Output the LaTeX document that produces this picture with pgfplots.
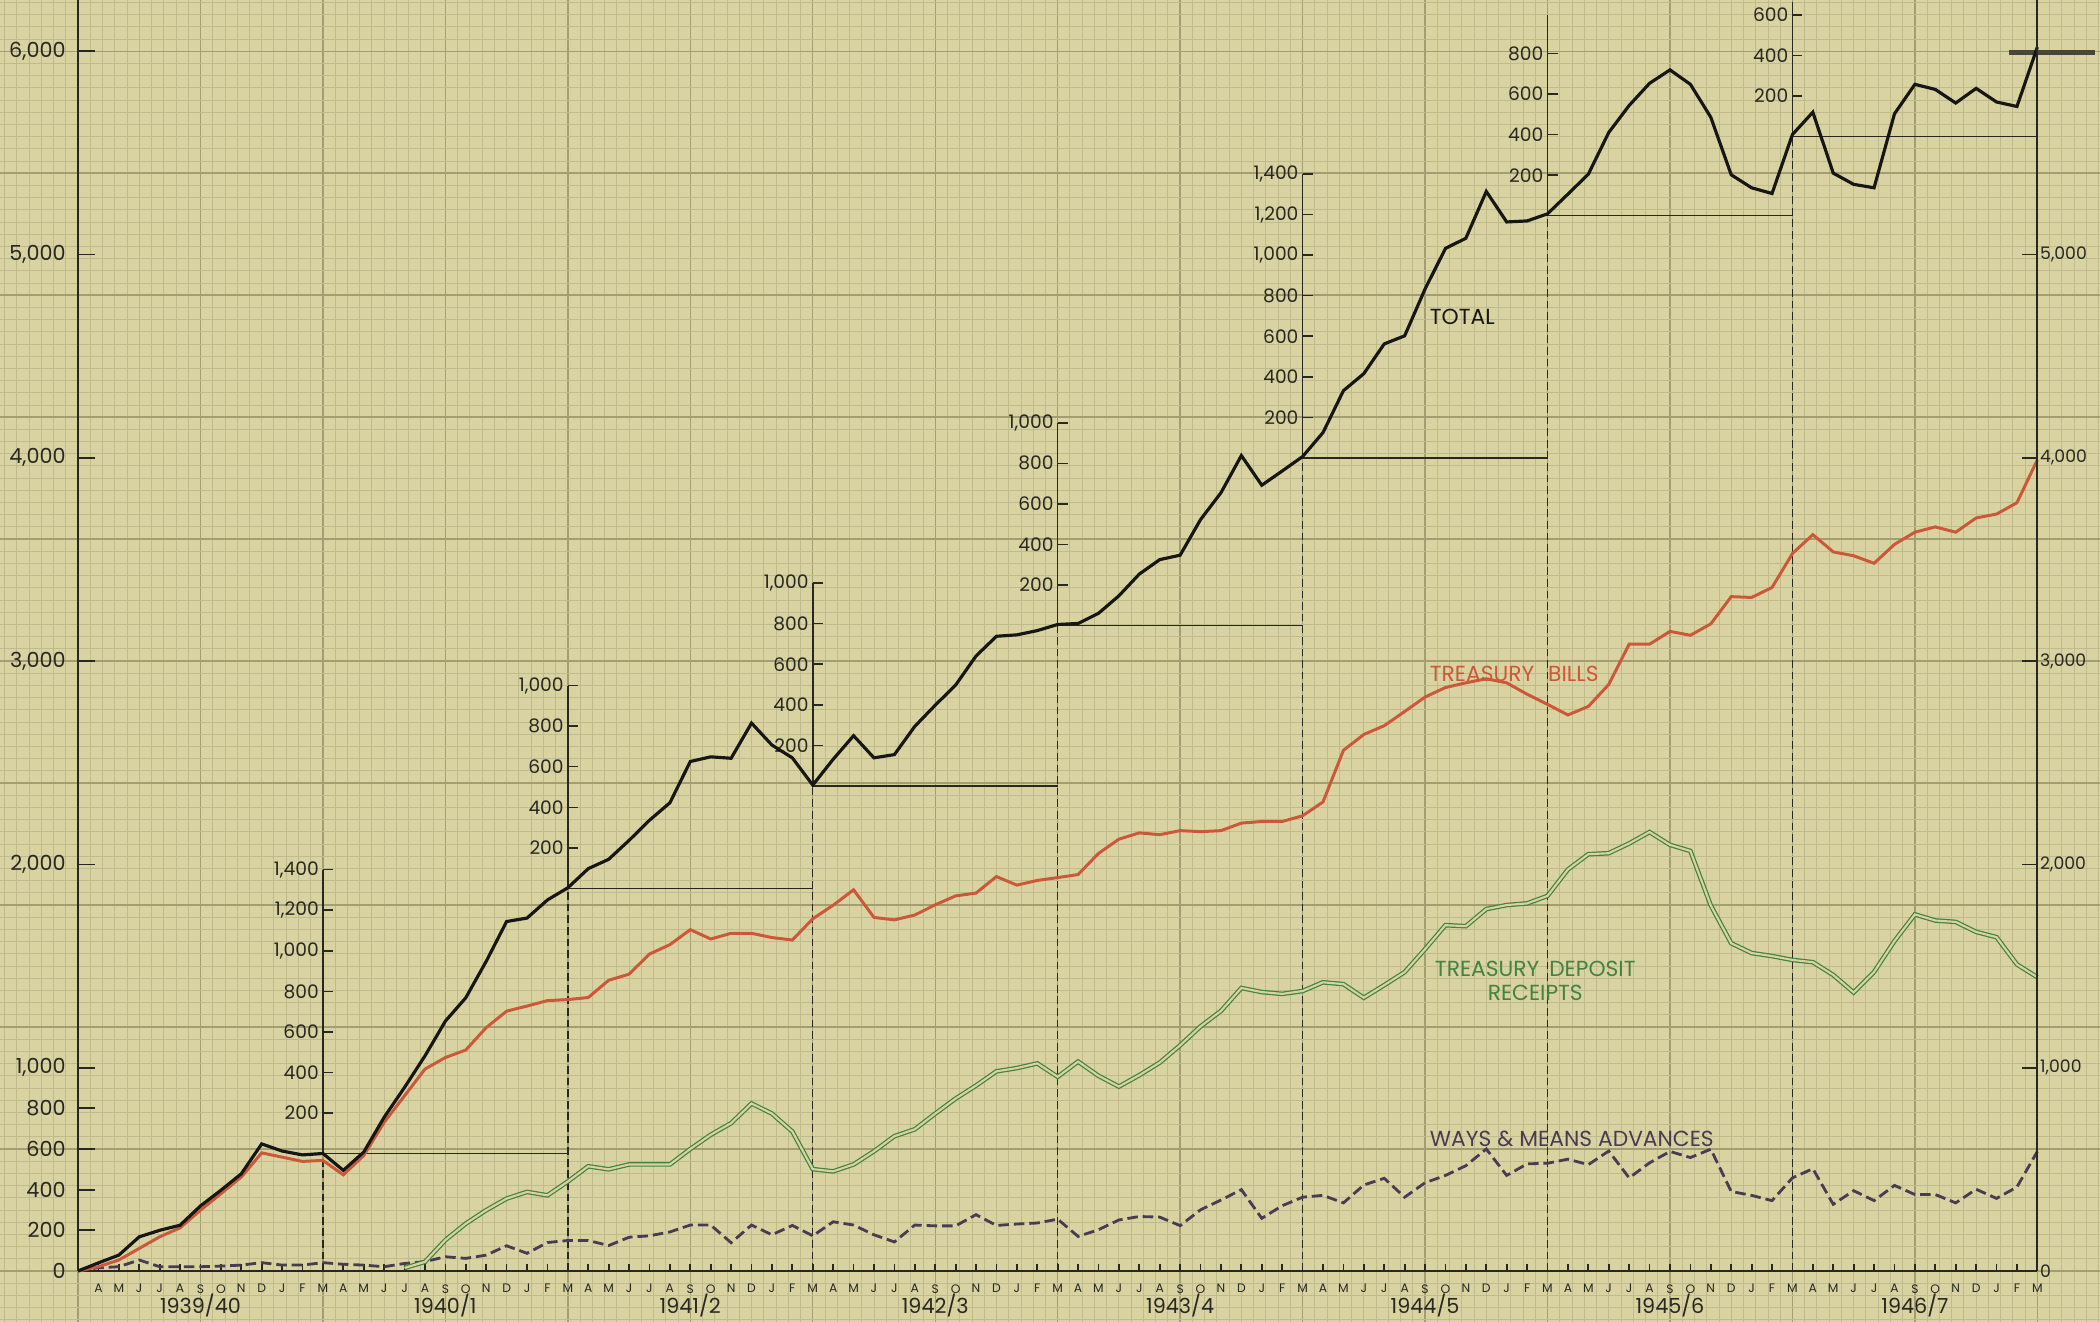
\documentclass[border=0pt]{standalone}
\usepackage{pgfplots}
\pgfplotsset{compat=1.18}
\usepackage{fontspec}
\setmainfont{Poppins}
\definecolor{paper}{RGB}{217,211,162}
\definecolor{mingrid}{RGB}{192,187,140}
\definecolor{majgrid}{RGB}{162,158,114}
\definecolor{ink}{RGB}{40,40,35}
\definecolor{totcol}{RGB}{22,22,20}
\definecolor{tbcol}{RGB}{204,88,58}
\definecolor{tdrcol}{RGB}{66,130,66}
\definecolor{wmcol}{RGB}{72,60,82}
\definecolor{barcol}{RGB}{72,70,58}
\newcommand{\insetfont}{\fontsize{5.3}{6}\selectfont}
\newcommand{\yearfont}{\fontsize{5.9}{7}\selectfont}
\newcommand{\serfont}{\fontsize{6.2}{6.6}\selectfont}
\newcommand{\inset}[4]{%
  \draw[ink, line width=0.4pt, dash pattern=on 2.2pt off 1.1pt] (#1,0) -- (#1,#2);
  \draw[ink, line width=0.45pt] (#1,#2) -- (#1,#3);
  \draw[ink, line width=0.4pt] (#1,#2) -- (#1+12,#2);
  \foreach \v/\t in {#4} {
    \draw[ink, line width=0.45pt] (#1,#2+\v) -- ++(0.1cm,0);
    \node[anchor=east, inner sep=1pt, font=\insetfont, ink] at (#1,#2+\v) {\t};
  }%
}
\begin{document}
\begin{tikzpicture}
% ---------- paper grid ----------
\begin{axis}[at={(0,0)}, anchor=south west, scale only axis,
  width=21cm, height=13.22cm,
  xmin=-3.8217, xmax=99.0696, ymin=-250.86, ymax=6252,
  axis background/.style={fill=paper},
  axis line style={draw=none}, tick style={draw=none},
  xtick={0,6,...,96}, minor xtick={-3.6,-3.0,...,99},
  ytick={0,600,...,6000}, minor ytick={-240,-180,...,6240},
  xticklabels={}, yticklabels={},
  grid=both,
  major grid style={draw=majgrid, line width=0.4pt},
  minor grid style={draw=mingrid, line width=0.25pt},
]
\end{axis}
% ---------- annual insets, labels ----------
\begin{scope}[shift={(0.78cm,0.51cm)}, x=0.2041cm, y=0.002033cm]
  \inset{12}{578}{1978}{200/200,400/400,600/600,800/800,1000/{1,000},1200/{1,200},1400/{1,400}}
  \inset{24}{1885}{2885}{200/200,400/400,600/600,800/800,1000/{1,000}}
  \inset{36}{2390}{3390}{200/200,400/400,600/600,800/800,1000/{1,000}}
  \inset{48}{3180}{4180}{200/200,400/400,600/600,800/800,1000/{1,000}}
  \inset{60}{4006}{5406}{200/200,400/400,600/600,800/800,1000/{1,000},1200/{1,200},1400/{1,400}}
  \inset{72}{5200}{6190}{200/200,400/400,600/600,800/800}
  \inset{84}{5590}{6252}{200/200,400/400,600/600}
  \draw[barcol, line width=1.5pt] (94.6,6005) -- (98.8,6005);
  \node[font=\yearfont, ink] at (6,-172) {1939/40};
  \node[font=\yearfont, ink] at (18,-172) {1940/1};
  \node[font=\yearfont, ink] at (30,-172) {1941/2};
  \node[font=\yearfont, ink] at (42,-172) {1942/3};
  \node[font=\yearfont, ink] at (54,-172) {1943/4};
  \node[font=\yearfont, ink] at (66,-172) {1944/5};
  \node[font=\yearfont, ink] at (78,-172) {1945/6};
  \node[font=\yearfont, ink] at (90,-172) {1946/7};
  \node[anchor=west, font=\serfont, totcol, inner sep=0pt] at (66.2,4700) {TOTAL};
  \node[anchor=west, font=\serfont, tbcol, inner sep=0pt] at (66.2,2942) {TREASURY\hspace{0.14cm}BILLS};
  \node[align=center, font=\serfont, tdrcol, inner sep=0pt] at (71.4,1430) {TREASURY\hspace{0.1cm}DEPOSIT\\RECEIPTS};
  \node[anchor=west, font=\serfont, wmcol, inner sep=0pt] at (66.2,653) {WAYS\hspace{0.06cm}\&\hspace{0.06cm}MEANS\hspace{0.06cm}ADVANCES};
\end{scope}
% ---------- main axis with data ----------
\begin{axis}[at={(0.78cm,0.51cm)}, anchor=south west, scale only axis,
  width=19.5936cm, height=12.7103cm,
  xmin=0, xmax=96, ymin=0, ymax=6252,
  axis x line*=bottom, axis y line*=left,
  axis line style={draw=ink, line width=0.6pt, -},
  clip=false,
  tick align=inside,
  major tick length=0.17cm,
  tick style={draw=ink, line width=0.5pt},
  xtick={1,...,96},
  xticklabels={A,M,J,J,A,S,O,N,D,J,F,M,A,M,J,J,A,S,O,N,D,J,F,M,A,M,J,J,A,S,O,N,D,J,F,M,A,M,J,J,A,S,O,N,D,J,F,M,A,M,J,J,A,S,O,N,D,J,F,M,A,M,J,J,A,S,O,N,D,J,F,M,A,M,J,J,A,S,O,N,D,J,F,M,A,M,J,J,A,S,O,N,D,J,F,M},
  x tick style={/pgfplots/major tick length=0.07cm},
  xticklabel style={font=\fontsize{3.5}{4}\selectfont, text=ink, yshift=-0.01cm},
  ytick={0,200,400,600,800,1000,2000,3000,4000,5000,6000},
  yticklabels={0,200,400,600,800,{1,000},{2,000},{3,000},{4,000},{5,000},{6,000}},
  yticklabel style={font=\fontsize{5.9}{6}\selectfont, text=ink},
]
\addplot[wmcol, line width=0.8pt, dash pattern=on 3pt off 1.4pt] coordinates {
(0,0)(1,16)(2,21)(3,54)(4,21)(5,21)(6,21)(7,24)(8,29)(9,41)(10,29)(11,29)(12,41)(13,33)(14,29)(15,21)(16,37)(17,46)(18,70)(19,62)(20,78)(21,124)(22,87)(23,140)(24,150)(25,150)(26,125)(27,166)(28,173)(29,192)(30,226)(31,226)(32,139)(33,226)(34,178)(35,224)(36,173)(37,242)(38,226)(39,178)(40,143)(41,226)(42,222)(43,222)(44,277)(45,224)(46,231)(47,236)(48,255)(49,170)(50,203)(51,251)(52,268)(53,265)(54,223)(55,301)(56,349)(57,400)(58,259)(59,321)(60,363)(61,372)(62,335)(63,423)(64,456)(65,363)(66,434)(67,470)(68,518)(69,600)(70,470)(71,527)(72,530)(73,550)(74,523)(75,590)(76,458)(77,532)(78,588)(79,558)(80,599)(81,391)(82,372)(83,346)(84,458)(85,503)(86,328)(87,395)(88,346)(89,421)(90,376)(91,376)(92,335)(93,402)(94,357)(95,413)(96,588)};
\addplot[tdrcol, line width=0.35pt, double=paper, double distance=0.6pt] coordinates {
(16,15)(17,45)(18,152)(19,233)(20,299)(21,356)(22,389)(23,372)(24,440)(25,515)(26,500)(27,524)(28,524)(29,524)(30,600)(31,670)(32,727)(33,824)(34,774)(35,686)(36,501)(37,490)(38,524)(39,589)(40,663)(41,697)(42,774)(43,848)(44,912)(45,982)(46,998)(47,1021)(48,955)(49,1030)(50,960)(51,907)(52,963)(53,1025)(54,1110)(55,1203)(56,1279)(57,1392)(58,1372)(59,1363)(60,1377)(61,1420)(62,1411)(63,1344)(64,1406)(65,1470)(66,1583)(67,1701)(68,1696)(69,1780)(70,1800)(71,1808)(72,1845)(73,1975)(74,2050)(75,2055)(76,2103)(77,2159)(78,2096)(79,2066)(80,1798)(81,1612)(82,1564)(83,1549)(84,1530)(85,1519)(86,1456)(87,1370)(88,1471)(89,1623)(90,1754)(91,1724)(92,1717)(93,1668)(94,1642)(95,1508)(96,1445)};
\addplot[tbcol, line width=0.85pt] coordinates {
(0,0)(1,21)(2,54)(3,111)(4,168)(5,212)(6,299)(7,380)(8,462)(9,581)(10,560)(11,539)(12,544)(13,473)(14,568)(15,731)(16,862)(17,993)(18,1050)(19,1087)(20,1197)(21,1278)(22,1303)(23,1330)(24,1335)(25,1345)(26,1430)(27,1460)(28,1559)(29,1605)(30,1679)(31,1633)(32,1661)(33,1661)(34,1640)(35,1628)(36,1732)(37,1799)(38,1875)(39,1739)(40,1727)(41,1751)(42,1801)(43,1845)(44,1859)(45,1940)(46,1898)(47,1921)(48,1935)(49,1950)(50,2054)(51,2124)(52,2155)(53,2146)(54,2166)(55,2161)(56,2166)(57,2203)(58,2211)(59,2211)(60,2239)(61,2307)(62,2561)(63,2639)(64,2682)(65,2752)(66,2823)(67,2870)(68,2893)(69,2913)(70,2893)(71,2837)(72,2787)(73,2735)(74,2777)(75,2885)(76,3083)(77,3083)(78,3146)(79,3127)(80,3183)(81,3317)(82,3313)(83,3362)(84,3529)(85,3622)(86,3537)(87,3518)(88,3481)(89,3574)(90,3634)(91,3660)(92,3634)(93,3704)(94,3723)(95,3779)(96,3990)};
\addplot[totcol, line width=0.9pt] coordinates {
(0,0)(1,40)(2,78)(3,168)(4,200)(5,225)(6,320)(7,397)(8,478)(9,625)(10,590)(11,571)(12,578)(13,495)(14,585)(15,756)(16,903)(17,1058)(18,1229)(19,1344)(20,1523)(21,1719)(22,1736)(23,1825)(24,1885)(25,1979)(26,2025)(27,2118)(28,2217)(29,2303)(30,2506)(31,2529)(32,2522)(33,2695)(34,2587)(35,2524)(36,2390)(37,2517)(38,2633)(39,2524)(40,2540)(41,2679)(42,2783)(43,2882)(44,3025)(45,3122)(46,3129)(47,3150)(48,3180)(49,3185)(50,3235)(51,3321)(52,3428)(53,3499)(54,3521)(55,3696)(56,3828)(57,4011)(58,3865)(59,3935)(60,4006)(61,4124)(62,4330)(63,4414)(64,4560)(65,4600)(66,4830)(67,5030)(68,5080)(69,5310)(70,5160)(71,5165)(72,5200)(73,5297)(74,5395)(75,5600)(76,5733)(77,5842)(78,5908)(79,5837)(80,5675)(81,5392)(82,5328)(83,5300)(84,5590)(85,5700)(86,5400)(87,5345)(88,5328)(89,5692)(90,5837)(91,5812)(92,5745)(93,5817)(94,5750)(95,5728)(96,6020)};
\end{axis}
% ---------- right axis ----------
\begin{axis}[at={(0.78cm,0.51cm)}, anchor=south west, scale only axis,
  width=19.5936cm, height=12.7103cm,
  xmin=0, xmax=96, ymin=0, ymax=6252,
  axis x line=none, axis y line*=right,
  axis line style={draw=ink, line width=0.6pt, -},
  tick align=inside, major tick length=0.15cm,
  tick style={draw=ink, line width=0.5pt},
  ytick={0,1000,2000,3000,4000,5000},
  yticklabels={0,{1,000},{2,000},{3,000},{4,000},{5,000}},
  yticklabel style={font=\fontsize{4.9}{5}\selectfont, text=ink, inner sep=0.6pt},
]
\end{axis}
\pgfresetboundingbox
\path[use as bounding box] (0,0) rectangle (21cm,13.22cm);
\end{tikzpicture}
\end{document}
